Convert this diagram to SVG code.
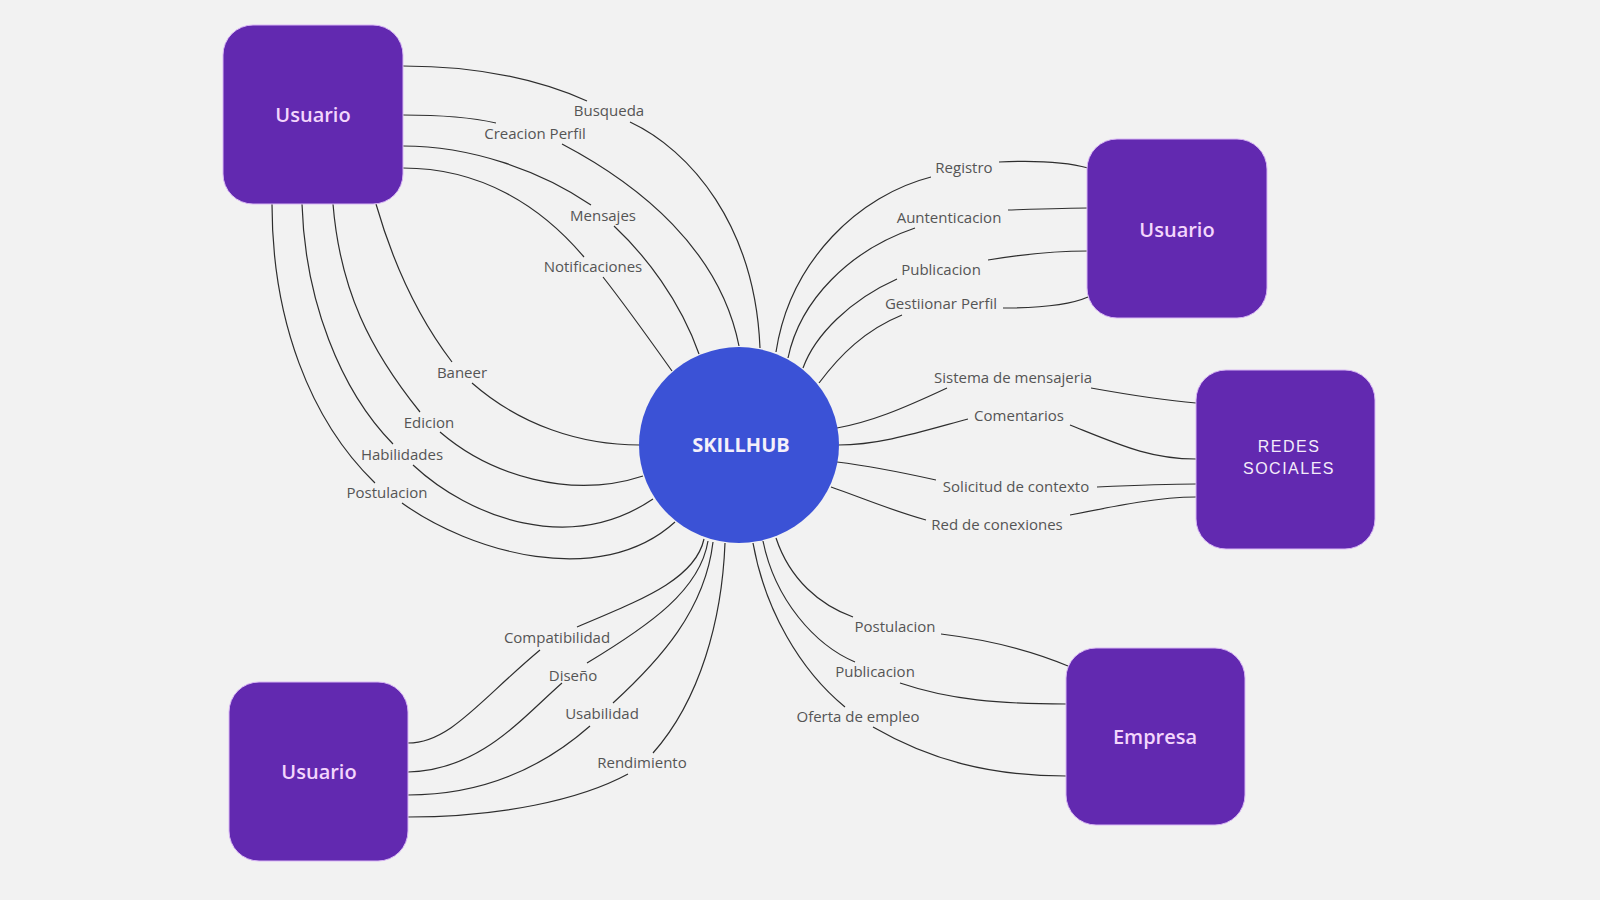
<svg xmlns="http://www.w3.org/2000/svg" width="1600" height="900" viewBox="0 0 1600 900">
<style>
.bg{fill:#f2f2f2}
.box{fill:#6229b0;stroke:#d9b8f5;stroke-width:1}
.btxt{font-family:"Open Sans","Noto Sans",sans-serif;font-size:20px;font-weight:600;fill:#f3d6fc;text-anchor:middle}
.rtxt{font-family:"Liberation Sans",Arial,sans-serif;font-size:16px;letter-spacing:1.5px;fill:#f4ecfa;text-anchor:middle}
.hub{fill:#3b52d6}
.htxt{font-family:"Open Sans","Noto Sans",sans-serif;font-size:20px;font-weight:700;fill:#f4f0fa;text-anchor:middle}
.c path{fill:none;stroke:#2e2e2e;stroke-width:1.2}
.lbl{font-family:"Open Sans","Noto Sans",sans-serif;font-size:15px;fill:#555555;text-anchor:middle}
</style>
<rect class="bg" x="0" y="0" width="1600" height="900"/>

<g id="connectors" class="c">
  <!-- top-left Usuario -->
  <path d="M403,66 C480,66 540,80 587,101"/>
  <path d="M630,122 C690,150 755,225 760,348"/>
  <path d="M403,115 C440,115 470,117 496,123"/>
  <path d="M562,144 C640,185 720,250 739,346"/>
  <path d="M403,146 C470,146 540,170 591,205"/>
  <path d="M614,226 C645,255 680,300 699,354"/>
  <path d="M403,168 C480,168 540,205 584,257"/>
  <path d="M603,277 C625,305 650,340 672,371"/>
  <path d="M376,204 C395,270 420,320 452,362"/>
  <path d="M472,383 C520,425 580,445 640,445"/>
  <path d="M333,204 C340,290 370,350 420,412"/>
  <path d="M440,432 C490,475 570,500 643,476"/>
  <path d="M302,204 C305,300 340,390 393,444"/>
  <path d="M413,465 C470,518 570,555 653,499"/>
  <path d="M272,204 C272,320 310,420 375,483"/>
  <path d="M402,503 C470,552 600,590 675,522"/>
  <!-- top-right Usuario -->
  <path d="M999,162 C1040,160 1070,163 1088,168"/>
  <path d="M931,177 C860,195 790,260 776,352"/>
  <path d="M1008,210 C1040,209 1070,208 1088,208"/>
  <path d="M915,228 C850,250 800,300 788,358"/>
  <path d="M988,260 C1030,253 1060,251 1088,251"/>
  <path d="M897,279 C850,300 815,335 803,368"/>
  <path d="M1003,308 C1040,308 1070,305 1088,297"/>
  <path d="M902,315 C865,330 840,355 819,383"/>
  <!-- REDES SOCIALES -->
  <path d="M1091,388 C1130,395 1160,400 1196,403"/>
  <path d="M947,388 C900,410 870,422 837,428"/>
  <path d="M1070,425 C1120,445 1150,459 1196,459"/>
  <path d="M968,419 C920,432 880,445 838,445"/>
  <path d="M1097,487 C1140,485 1170,484 1196,484"/>
  <path d="M936,480 C900,472 870,466 837,462"/>
  <path d="M1070,515 C1120,505 1160,497 1196,497"/>
  <path d="M926,520 C890,510 860,497 831,487"/>
  <!-- Empresa -->
  <path d="M941,634 C990,640 1030,650 1068,666"/>
  <path d="M853,617 C820,605 790,580 776,538"/>
  <path d="M900,683 C950,700 1000,704 1066,704"/>
  <path d="M855,662 C815,645 775,600 763,541"/>
  <path d="M873,727 C930,760 990,776 1066,776"/>
  <path d="M845,707 C800,670 765,610 753,543"/>
  <!-- bottom-left Usuario -->
  <path d="M408,743 C450,743 480,700 540,650"/>
  <path d="M577,627 C640,600 695,580 704,539"/>
  <path d="M408,772 C480,770 520,720 562,683"/>
  <path d="M587,663 C650,625 700,590 708,541"/>
  <path d="M408,795 C480,795 540,770 590,726"/>
  <path d="M613,703 C660,660 705,610 713,542"/>
  <path d="M408,817 C500,817 580,800 628,774"/>
  <path d="M653,753 C700,700 722,620 725,543"/>

  <text class="lbl" x="609" y="116">Busqueda</text>
  <text class="lbl" x="535" y="139">Creacion Perfil</text>
  <text class="lbl" x="603" y="221">Mensajes</text>
  <text class="lbl" x="593" y="272">Notificaciones</text>
  <text class="lbl" x="462" y="378">Baneer</text>
  <text class="lbl" x="429" y="428">Edicion</text>
  <text class="lbl" x="402" y="460">Habilidades</text>
  <text class="lbl" x="387" y="498">Postulacion</text>
  <text class="lbl" x="964" y="173">Registro</text>
  <text class="lbl" x="949" y="223">Auntenticacion</text>
  <text class="lbl" x="941" y="275">Publicacion</text>
  <text class="lbl" x="941" y="309">Gestiionar Perfil</text>
  <text class="lbl" x="1013" y="383">Sistema de mensajeria</text>
  <text class="lbl" x="1019" y="421">Comentarios</text>
  <text class="lbl" x="1016" y="492">Solicitud de contexto</text>
  <text class="lbl" x="997" y="530">Red de conexiones</text>
  <text class="lbl" x="895" y="632">Postulacion</text>
  <text class="lbl" x="875" y="677">Publicacion</text>
  <text class="lbl" x="858" y="722">Oferta de empleo</text>
  <text class="lbl" x="557" y="643">Compatibilidad</text>
  <text class="lbl" x="573" y="681">Diseño</text>
  <text class="lbl" x="602" y="719">Usabilidad</text>
  <text class="lbl" x="642" y="768">Rendimiento</text>
</g>

<g id="skillhub">
  <ellipse class="hub" cx="739" cy="445" rx="100" ry="98"/>
  <text class="htxt" x="741" y="452">SKILLHUB</text>
</g>
<g id="usuario-tl">
  <rect class="box" x="223" y="25" width="180" height="179" rx="30"/>
  <text class="btxt" x="313" y="122">Usuario</text>
</g>
<g id="usuario-tr">
  <rect class="box" x="1087" y="139" width="180" height="179" rx="30"/>
  <text class="btxt" x="1177" y="237">Usuario</text>
</g>
<g id="redes-sociales">
  <rect class="box" x="1196" y="370" width="179" height="179" rx="30"/>
  <text class="rtxt" x="1289" y="452">REDES</text>
  <text class="rtxt" x="1289" y="474">SOCIALES</text>
</g>
<g id="empresa">
  <rect class="box" x="1066" y="648" width="179" height="177" rx="30"/>
  <text class="btxt" x="1155" y="744">Empresa</text>
</g>
<g id="usuario-bl">
  <rect class="box" x="229" y="682" width="179" height="179" rx="30"/>
  <text class="btxt" x="319" y="779">Usuario</text>
</g>
</svg>
